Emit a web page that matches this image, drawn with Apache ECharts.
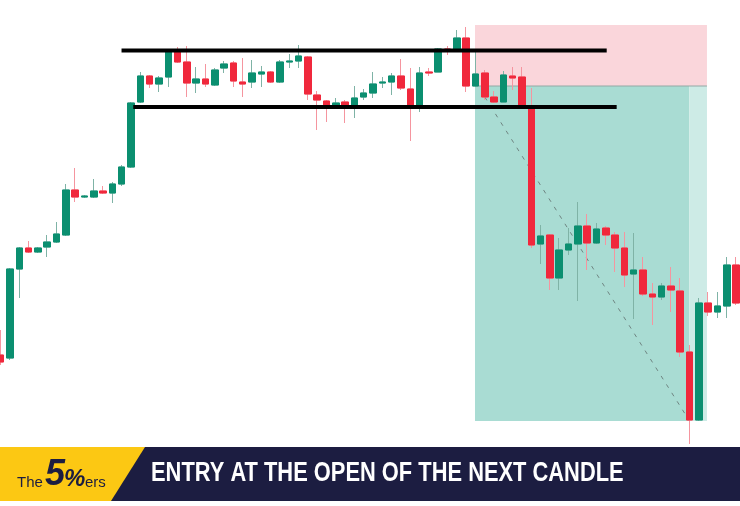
<!DOCTYPE html>
<html><head><meta charset="utf-8">
<script src="https://cdn.jsdelivr.net/npm/echarts@6/dist/echarts.min.js"></script>
<style>html,body{margin:0;padding:0;background:#fff}#c{width:740px;height:506px}</style>
</head><body><div id="c"></div>
<script>
// candle index (x) and OHLC values (price units)
const idx = [];
for (let i = -1; i <= 78; i++) idx.push(i);
const opens  = [105,102,191,212,208,213,218,225,270,263,263,269,267,276,293,358,384,376,383,410,398,377,381,375,392,397,378,378,386,388,378,398,399,403,365,359,354,358,353,363,367,377,378,384,371,352,388,388,411,411,422,374,387,363,358,384,383,354,216,225,182,210,216,234,217,232,225,212,186,190,166,163,174,169,108,40,157,148,154,195];
const closes = [98,191,212,208,212,218,226,270,263,264,269,267,276,293,357,384,376,382,408,398,377,381,376,390,396,379,376,387,388,378,398,399,404,366,360,354,357,354,362,367,376,378,384,372,352,387,387,411,410,422,374,386,363,358,385,382,355,215,224,182,210,216,234,217,231,225,212,185,190,166,163,174,170,108,40,157,148,154,195,157];
const lows   = [95,100,162,207,207,203,217,224,258,262,262,266,257,274,292,357,372,368,373,397,363,367,373,374,387,373,363,372,373,377,377,392,392,360,330,338,352,337,342,360,362,372,365,370,319,348,384,388,405,408,368,373,360,357,358,370,354,212,196,170,170,205,159,190,216,215,188,173,141,164,135,160,148,103,16,39,144,142,142,155];
const highs  = [130,192,213,219,213,225,238,276,292,265,281,274,278,295,358,388,385,384,410,413,414,393,396,392,399,399,402,400,394,389,400,406,415,404,369,360,362,360,374,371,388,383,387,401,392,393,392,412,414,430,433,410,390,369,389,393,393,372,235,226,222,232,258,246,237,234,228,228,227,203,177,177,193,182,115,162,168,168,203,203];

// annotation levels
const resistance = {from: 11.98, to: 64.1, price: 409.5};
const support = {from: 13.24, to: 65.17, price: 353};
const entryPrice = 374, stopPrice = 435, targetPrice = 39;
const zoneStart = 49.95, zoneEndDark = 72.98, zoneEnd = 74.87;
const diagFrom = [51, 363], diagTo = [73, 39];

const full = idx.map((x, k) => [x, opens[k], closes[k], lows[k], highs[k]]);
const bodies = idx.map((x, k) => [x, opens[k], closes[k], Math.min(opens[k], closes[k]), Math.max(opens[k], closes[k])]);

const GREEN = '#0b8f70', RED = '#f0283c';
const chart = echarts.init(document.getElementById('c'));
chart.setOption({
  animation: false,
  grid: {left: 0.7, width: 735.4, top: 0, height: 460},
  xAxis: {type: 'value', min: -1, max: 78, show: false},
  yAxis: {type: 'value', min: 0, max: 460, show: false},
  series: [
    {
      type: 'line', data: [], z: 0,
      markArea: {
        silent: true,
        data: [
          [{coord: [zoneStart, stopPrice], itemStyle: {color: '#fad6db'}}, {coord: [zoneEnd, entryPrice]}],
          [{coord: [zoneStart, entryPrice], itemStyle: {color: '#a9dcd3'}}, {coord: [zoneEndDark, targetPrice]}],
          [{coord: [zoneEndDark, entryPrice], itemStyle: {color: '#cdebe6'}}, {coord: [zoneEnd, targetPrice]}]
        ]
      }
    },
    {type: 'line', data: [[zoneStart, entryPrice], [zoneEnd, entryPrice]], symbol: 'none', z: 1,
     lineStyle: {color: '#93a8a4', width: 1}},
    {type: 'line', data: [diagFrom, diagTo], symbol: 'none', z: 1,
     lineStyle: {color: '#6f8582', width: 1, type: [4, 6]}},
    {
      type: 'candlestick', data: full, encode: {x: 0, y: [1, 2, 3, 4]}, barWidth: 7, clip: false, z: 2,
      itemStyle: {color: '#7fb3a6', color0: '#f5959f', borderColor: '#7fb3a6', borderColor0: '#f5959f', borderWidth: 1}
    },
    {
      type: 'candlestick', data: bodies, encode: {x: 0, y: [1, 2, 3, 4]}, barWidth: 7, clip: false, z: 3,
      itemStyle: {color: GREEN, color0: RED, borderColor: GREEN, borderColor0: RED, borderWidth: 1}
    },
    {type: 'line', data: [[resistance.from, resistance.price], [resistance.to, resistance.price]], symbol: 'none', z: 4,
     lineStyle: {color: '#000', width: 4}},
    {type: 'line', data: [[support.from, support.price], [support.to, support.price]], symbol: 'none', z: 4,
     lineStyle: {color: '#000', width: 4}}
  ],
  graphic: [
    {type: 'rect', shape: {x: 0, y: 447, width: 740, height: 54}, style: {fill: '#1c1d41'}, z: 10},
    {type: 'polygon', shape: {points: [[0, 447], [145, 447], [111, 501], [0, 501]]}, style: {fill: '#fcc813'}, z: 11},
    {type: 'text', x: 17, y: 490, style: {text: 'The', font: '15px "Liberation Sans", sans-serif', fill: '#1c1d41', textVerticalAlign: 'bottom'}, z: 12},
    {type: 'text', x: 45, y: 493, style: {text: '5', font: 'italic bold 36px "Liberation Sans", sans-serif', fill: '#1c1d41', textVerticalAlign: 'bottom'}, z: 12},
    {type: 'text', x: 64, y: 491, style: {text: '%', font: 'italic bold 24px "Liberation Sans", sans-serif', fill: '#1c1d41', textVerticalAlign: 'bottom'}, z: 12},
    {type: 'text', x: 85, y: 490, style: {text: 'ers', font: '15px "Liberation Sans", sans-serif', fill: '#1c1d41', textVerticalAlign: 'bottom'}, z: 12},
    {type: 'text', x: 151, y: 474, scaleX: 0.81, style: {text: 'ENTRY AT THE OPEN OF THE NEXT CANDLE', font: 'bold 27px "Liberation Sans", sans-serif', fill: '#ffffff', textVerticalAlign: 'middle'}, z: 12}
  ]
});
</script></body></html>
